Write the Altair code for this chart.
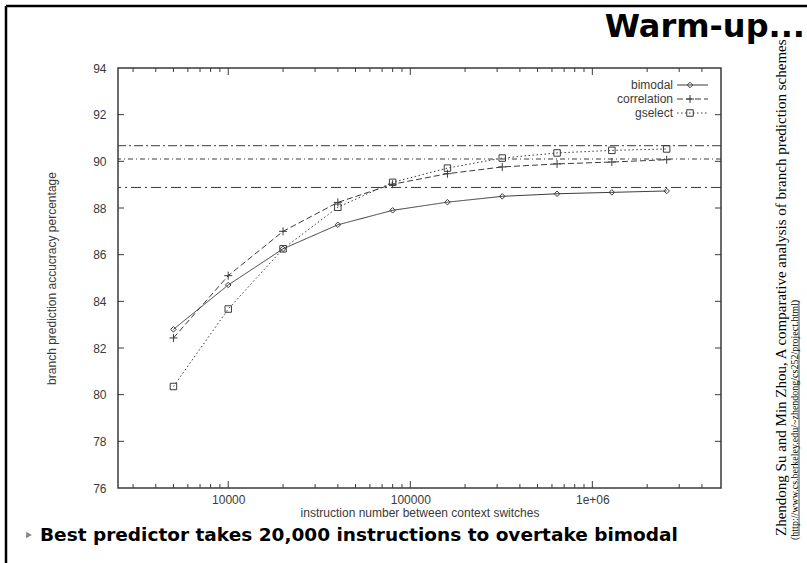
import altair as alt
import pandas as pd

# ---- data -------------------------------------------------------------
SWITCH_INTERVAL = [5000, 10000, 20000, 40000, 80000, 160000, 320000, 640000, 1280000, 2560000]
BIMODAL = [82.8, 84.7, 86.25, 87.28, 87.9, 88.25, 88.5, 88.61, 88.67, 88.73]
CORRELATION = [82.43, 85.1, 87.0, 88.24, 89.02, 89.47, 89.76, 89.89, 89.97, 90.07]
GSELECT = [80.35, 83.67, 86.25, 88.03, 89.1, 89.71, 90.14, 90.36, 90.47, 90.53]
SERIES_NAMES = ["bimodal", "correlation", "gselect"]

# steady-state (no context switch) accuracy of each predictor
ASYMPTOTES = [88.88, 90.1, 90.67]

Y_TICKS = [76, 78, 80, 82, 84, 86, 88, 90, 92, 94]
X_MAJOR = [10000, 100000, 1000000]
X_MAJOR_LABELS = ["10000", "100000", "1e+06"]
X_MINOR = [3000, 4000, 5000, 6000, 7000, 8000, 9000,
           20000, 30000, 40000, 50000, 60000, 70000, 80000, 90000,
           200000, 300000, 400000, 500000, 600000, 700000, 800000, 900000,
           2000000, 3000000, 4000000]

TITLE = "Warm-up..."
FOOTNOTE = "Best predictor takes 20,000 instructions to overtake bimodal"
CITATION = "Zhendong Su and Min Zhou, A comparative analysis of branch prediction schemes"
CITATION_URL = "(http://www.cs.berkeley.edu/~zhendong/cs252/project.html)"

# ---- layout -----------------------------------------------------------
W, H = 603, 420
PAD_L, PAD_T = 118, 68
PAD_R, PAD_B = 807 - PAD_L - W, 563 - PAD_T - H
INK = "#3a3a3a"
AXIS_FONT = "Liberation Sans"

x_scale = alt.Scale(type="log", domain=[2480, 5.09e6], nice=False)
y_scale = alt.Scale(domain=[76, 94], nice=False, zero=False)

label_map = " : ".join(
    f"datum.value == {v} ? '{l}'" for v, l in zip(X_MAJOR, X_MAJOR_LABELS)
) + " : ''"

x_axis = alt.Axis(values=X_MAJOR, labelExpr=label_map, ticks=False, domain=False, grid=False,
                  labelFont=AXIS_FONT, labelFontSize=12, labelColor=INK, labelPadding=6,
                  title="instruction number between context switches",
                  titleFont=AXIS_FONT, titleFontSize=12, titleFontWeight="normal",
                  titleColor=INK, titlePadding=2)
y_axis = alt.Axis(values=Y_TICKS, ticks=False, domain=False, grid=False,
                  labelFont=AXIS_FONT, labelFontSize=12, labelColor=INK, labelPadding=12,
                  title="branch prediction accucracy percentage",
                  titleFont=AXIS_FONT, titleFontSize=12, titleFontWeight="normal",
                  titleColor=INK, titlePadding=34)


def xq(field="x"):
    return alt.X(f"{field}:Q", scale=x_scale, axis=x_axis)


def yq(field="y"):
    return alt.Y(f"{field}:Q", scale=y_scale, axis=y_axis)


series = {"bimodal": BIMODAL, "correlation": CORRELATION, "gselect": GSELECT}
styles = {
    "bimodal": dict(dash=[1, 0], shape="diamond", size=30),
    "correlation": dict(dash=[6, 3], shape="M-1,0H1M0,-1V1", size=64),
    "gselect": dict(dash=[1.5, 2.5], shape="square", size=42),
}

layers = []

# horizontal asymptote lines
asym_dashes = [[10, 4, 2, 4], [5, 3, 1, 3], [9, 3, 2, 3]]
for level, dash in zip(ASYMPTOTES, asym_dashes):
    df = pd.DataFrame({"y": [level]})
    layers.append(
        alt.Chart(df).mark_rule(color=INK, strokeWidth=1, strokeDash=dash).encode(y=yq())
    )

# series lines and markers
for name in SERIES_NAMES:
    df = pd.DataFrame({"x": SWITCH_INTERVAL, "y": series[name], "series": name})
    st = styles[name]
    base = alt.Chart(df).encode(x=xq(), y=yq())
    layers.append(base.mark_line(color=INK, strokeWidth=1, strokeDash=st["dash"]))
    layers.append(base.mark_point(shape=st["shape"], size=st["size"], filled=False,
                                  color=INK, strokeWidth=1, opacity=1))

# inward tick marks on all four sides (gnuplot style)
ytick_df = pd.DataFrame({"y": Y_TICKS[1:-1]})
for x0, x1 in [(0, 6), (W - 6, W)]:
    layers.append(
        alt.Chart(ytick_df).mark_rule(color=INK, strokeWidth=1).encode(
            y=yq(), x=alt.value(x0), x2=alt.value(x1),
        )
    )
for vals, length in [(X_MAJOR, 7), (X_MINOR, 4)]:
    tdf = pd.DataFrame({"x": vals})
    for y0, y1 in [(H - length, H), (0, length)]:
        layers.append(
            alt.Chart(tdf).mark_rule(color=INK, strokeWidth=1).encode(
                x=xq(), y=alt.value(y0), y2=alt.value(y1),
            )
        )

# key in the upper right corner
for i, name in enumerate(SERIES_NAMES):
    st = styles[name]
    row_y = 17 + 14 * i
    key_df = pd.DataFrame({"label": [name]})
    layers.append(
        alt.Chart(key_df).mark_text(align="right", baseline="middle", font=AXIS_FONT,
                                    fontSize=12, color=INK).encode(
            text="label:N", x=alt.value(555), y=alt.value(row_y)
        )
    )
    layers.append(
        alt.Chart(key_df).mark_rule(color=INK, strokeWidth=1, strokeDash=st["dash"]).encode(
            x=alt.value(559), x2=alt.value(590), y=alt.value(row_y)
        )
    )
    layers.append(
        alt.Chart(key_df).mark_point(shape=st["shape"], size=st["size"], filled=False,
                                     color=INK, strokeWidth=1, opacity=1).encode(
            x=alt.value(572), y=alt.value(row_y)
        )
    )

# slide decorations: frame, heading, bullet line and citation
text_df = pd.DataFrame({"t": [TITLE]})
layers.append(
    alt.Chart(text_df).mark_rule(color="black", strokeWidth=2.5).encode(
        x=alt.value(6 - PAD_L), x2=alt.value(807 - PAD_L), y=alt.value(6 - PAD_T)
    )
)
layers.append(
    alt.Chart(text_df).mark_rule(color="black", strokeWidth=2.5).encode(
        x=alt.value(6 - PAD_L), y=alt.value(6 - PAD_T), y2=alt.value(563 - PAD_T)
    )
)
layers.append(
    alt.Chart(text_df).mark_text(align="right", baseline="alphabetic", font="DejaVu Sans",
                                 fontWeight="bold", fontSize=32, color="black").encode(
        text="t:N", x=alt.value(805 - PAD_L), y=alt.value(37 - PAD_T)
    )
)
foot_df = pd.DataFrame({"t": [FOOTNOTE]})
layers.append(
    alt.Chart(foot_df).mark_text(align="left", baseline="middle", font="DejaVu Sans",
                                 fontWeight="bold", fontSize=18.5, color="black").encode(
        text="t:N", x=alt.value(40 - PAD_L), y=alt.value(535 - PAD_T)
    )
)
layers.append(
    alt.Chart(foot_df).mark_point(shape="triangle-right", size=45, filled=True,
                                  color="#888888", opacity=1).encode(
        x=alt.value(29 - PAD_L), y=alt.value(535 - PAD_T)
    )
)
cite_df = pd.DataFrame({"t": [CITATION]})
layers.append(
    alt.Chart(cite_df).mark_text(align="left", baseline="middle", angle=270,
                                 font="Liberation Serif", fontSize=15, color="black").encode(
        text="t:N", x=alt.value(781 - PAD_L), y=alt.value(536 - PAD_T)
    )
)
url_df = pd.DataFrame({"t": [CITATION_URL]})
layers.append(
    alt.Chart(url_df).mark_text(align="left", baseline="middle", angle=270,
                                font="Liberation Serif", fontSize=10, color="black").encode(
        text="t:N", x=alt.value(795 - PAD_L), y=alt.value(540 - PAD_T)
    )
)
layers.append(
    alt.Chart(url_df).mark_rule(color="black", strokeWidth=0.7).encode(
        x=alt.value(799 - PAD_L), y=alt.value(301 - PAD_T), y2=alt.value(536 - PAD_T)
    )
)

chart = alt.layer(*layers).properties(
    width=W, height=H,
    autosize=alt.AutoSizeParams(type="none"),
    padding={"left": PAD_L, "top": PAD_T, "right": PAD_R, "bottom": PAD_B},
    background="white",
).configure_view(stroke=INK, strokeWidth=1.5)

chart.save("out.html", embed_options={"renderer": "svg", "actions": False})
